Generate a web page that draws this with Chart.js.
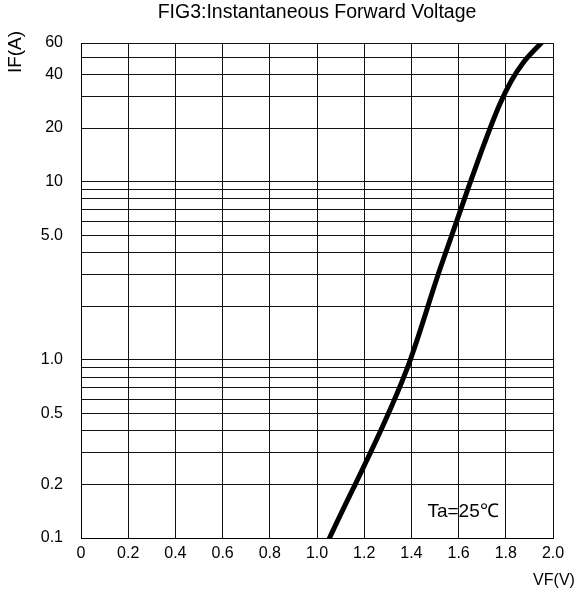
<!DOCTYPE html>
<html>
<head>
<meta charset="utf-8">
<script src="https://cdn.jsdelivr.net/npm/chart.js@4"></script>
<style>
  html, body { margin: 0; padding: 0; background: #fff; }
  #wrap { width: 576px; height: 594px; }
</style>
</head>
<body>
<div id="wrap"><canvas id="fig3"></canvas></div>
<script>
// curve
const vf = [1.053, 1.38, 1.52, 1.633, 1.71, 1.773, 1.823, 1.876, 1.95];
const ifA = [0.1, 0.88, 3.2, 8.6, 16.5, 26.9, 36.7, 46.9, 60];

// log grid and the labels that are printed
const yGrid = [0.1, 0.2, 0.3, 0.4, 0.5, 0.6, 0.7, 0.8, 0.9, 1, 2, 3, 4, 5, 6, 7, 8, 9, 10, 20, 30, 40, 50, 60];
const yLabels = { 0.1: "0.1", 0.2: "0.2", 0.5: "0.5", 1: "1.0", 5: "5.0", 10: "10", 20: "20", 40: "40", 60: "60" };

const titleText = "FIG3:Instantaneous Forward Voltage";
const note = "Ta=25\u2103";

const font = "'Liberation Sans', Arial, sans-serif";

const textPlugin = {
  id: "texts",
  afterDraw(chart) {
    const { ctx, chartArea, scales } = chart;
    ctx.save();
    ctx.fillStyle = "#000";
    ctx.font = "19.5px " + font;
    ctx.textAlign = "center";
    ctx.textBaseline = "middle";
    ctx.fillText(titleText, (chartArea.left + chartArea.right) / 2, 13);

    ctx.font = "16px " + font;
    ctx.fillText("VF(V)", 554, 581);

    ctx.save();
    ctx.translate(16, 52);
    ctx.rotate(-Math.PI / 2);
    ctx.font = "19px " + font;
    ctx.fillText("IF(A)", 0, 0);
    ctx.restore();

    ctx.font = "19px " + font;
    ctx.textAlign = "left";
    ctx.fillText(note, scales.x.getPixelForValue(1.468), scales.y.getPixelForValue(0.14));
    ctx.restore();
  }
};

const ctx = document.getElementById("fig3");

new Chart(ctx, {
  type: "line",
  data: {
    datasets: [
      {
        data: vf.map((v, i) => ({ x: v, y: ifA[i] })),
        borderColor: "#000",
        borderWidth: 5,
        pointRadius: 0,
        cubicInterpolationMode: "monotone",
        borderCapStyle: "round",
        borderJoinStyle: "round"
      }
    ]
  },
  options: {
    responsive: true,
    maintainAspectRatio: false,
    animation: false,
    layout: {
      padding: { left: 0, right: 23, top: 43, bottom: 0 }
    },
    plugins: {
      legend: { display: false },
      title: { display: false },
      tooltip: { enabled: false }
    },
    scales: {
      x: {
        type: "linear",
        min: 0,
        max: 2,
        afterFit: s => { s.height = 56; },
        ticks: {
          stepSize: 0.2,
          color: "#000",
          padding: 6,
          font: { family: font, size: 16 },
          callback: v => (v === 0 ? "0" : Number(v).toFixed(1))
        },
        grid: { color: "#111", lineWidth: 1, drawTicks: false },
        border: { color: "#000", width: 1 }
      },
      y: {
        type: "logarithmic",
        min: 0.1,
        max: 60,
        afterFit: s => { s.width = 81; },
        afterBuildTicks: axis => {
          axis.ticks = yGrid.map(v => ({ value: v }));
        },
        ticks: {
          color: "#000",
          padding: 18,
          autoSkip: false,
          font: { family: font, size: 16 },
          callback: v => yLabels[v] || ""
        },
        grid: { color: "#111", lineWidth: 1, drawTicks: false },
        border: { color: "#000", width: 1 }
      }
    }
  },
  plugins: [textPlugin]
});
</script>
</body>
</html>
